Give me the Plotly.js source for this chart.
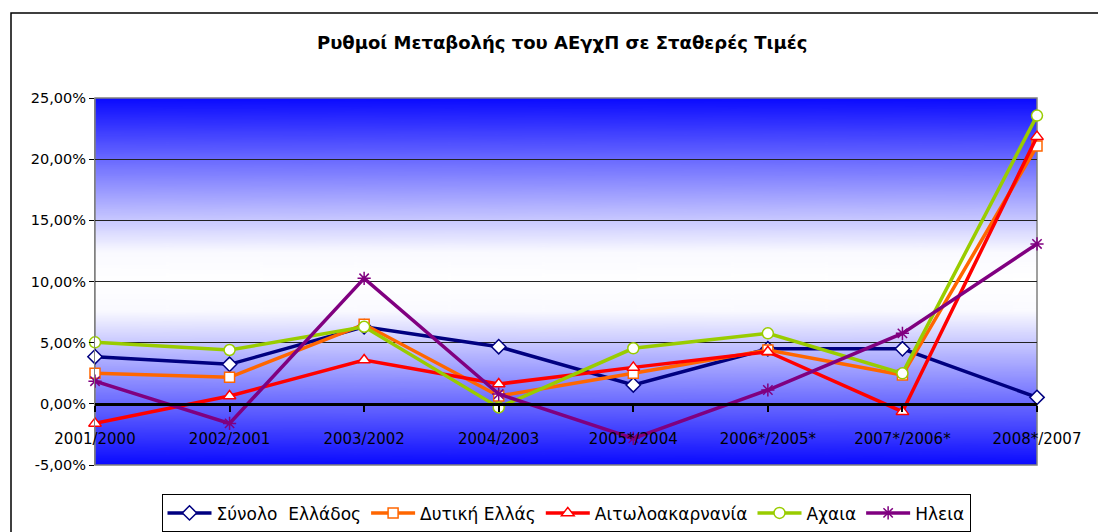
<!DOCTYPE html>
<html>
<head>
<meta charset="utf-8">
<script src="https://cdn.plot.ly/plotly-3.0.1.min.js"></script>
<style>html,body{margin:0;padding:0;background:#fff;}#chart{width:1098px;height:532px;}</style>
</head>
<body>
<div id="chart"></div>
<script>
const categories = ["2001/2000","2002/2001","2003/2002","2004/2003","2005*/2004","2006*/2005*","2007*/2006*","2008*/2007"];
const synoloEllados = [3.85, 3.23, 6.3, 4.67, 1.54, 4.5, 4.5, 0.53];
const dytikiEllas = [2.49, 2.17, 6.5, 0.64, 2.5, 4.4, 2.35, 21.08];
const aitoloakarnania = [-1.6, 0.64, 3.58, 1.62, 2.98, 4.26, -0.64, 21.84];
const achaia = [5.03, 4.4, 6.3, -0.29, 4.54, 5.76, 2.49, 23.56];
const ileia = [1.85, -1.6, 10.26, 0.8, -2.82, 1.13, 5.76, 13.07];
const seriesNames = ["Σύνολο  Ελλάδος","Δυτική Ελλάς","Αιτωλοακαρνανία","Αχαια","Ηλεια"];
const yTickVals = [-5, 0, 5, 10, 15, 20, 25];
const yTickText = ["-5,00%","0,00%","5,00%","10,00%","15,00%","20,00%","25,00%"];

// gradient background image
const cv = document.createElement('canvas');
cv.width = 20; cv.height = 400;
const ctx = cv.getContext('2d');
const g = ctx.createLinearGradient(0, 0, 0, 400);
g.addColorStop(0, '#0a0aff');
g.addColorStop(0.42, '#fafaff');
g.addColorStop(0.5, '#ffffff');
g.addColorStop(0.58, '#fafaff');
g.addColorStop(1, '#0a0aff');
ctx.fillStyle = g; ctx.fillRect(0, 0, 20, 400);
const bg = cv.toDataURL('image/png');

const styles = [
  {color:'#000080', symbol:'diamond', size:11},
  {color:'#FF6600', symbol:'square', size:10},
  {color:'#FF0000', symbol:'triangle-up', size:11},
  {color:'#99CC00', symbol:'circle', size:11},
  {color:'#800080', symbol:'asterisk-open', size:11}
];
const allSeries = [synoloEllados, dytikiEllas, aitoloakarnania, achaia, ileia];
const xIdx = categories.map((c,i)=>i);

const traces = allSeries.map((ys, k) => {
  const s = styles[k];
  const isAst = s.symbol === 'asterisk-open';
  return {
    type:'scatter', mode:'lines+markers', name: seriesNames[k],
    x: xIdx, y: ys,
    line:{color:s.color, width:3.5},
    marker:{symbol:s.symbol, size:s.size, color: isAst ? s.color : '#ffffff',
      line:{color:s.color, width:1.5}},
    cliponaxis:false
  };
});

const layout = {
  width:1098, height:532,
  margin:{l:95, r:61, t:98, b:67, autoexpand:false},
  paper_bgcolor:'#ffffff', plot_bgcolor:'rgba(0,0,0,0)',
  font:{family:'DejaVu Sans, sans-serif', size:14, color:'#000'},
  title:{text:'<b>Ρυθμοί Μεταβολής του ΑΕγχΠ σε Σταθερές Τιμές</b>', x:0.512, xanchor:'center', y:0.919, yanchor:'middle',
    font:{family:'DejaVu Sans, sans-serif', size:18, color:'#000'}},
  showlegend:true,
  legend:{orientation:'h', x:0.5, xanchor:'center', y:-0.08, yanchor:'top',
    bgcolor:'#ffffff', bordercolor:'#000', borderwidth:1,
    font:{family:'DejaVu Sans, sans-serif', size:17, color:'#000'}, itemwidth:44, tracegroupgap:0},
  xaxis:{range:[0,7], tickmode:'array', tickvals:xIdx, ticktext:categories,
    anchor:'free', position:1/6, showline:true, linecolor:'#000', linewidth:3,
    ticks:'outside', ticklen:6, tickwidth:2, tickcolor:'#000', showgrid:false, zeroline:false,
    ticklabelstandoff:14,
    tickfont:{family:'DejaVu Sans, sans-serif', size:15, color:'#000'}, fixedrange:true},
  yaxis:{range:[-5,25], tickmode:'array', tickvals:yTickVals, ticktext:yTickText,
    showline:true, linecolor:'#808080', linewidth:1, ticks:'outside', ticklen:5, tickcolor:'#000',
    showgrid:true, gridcolor:'#222', gridwidth:1, zeroline:false,
    tickfont:{family:'DejaVu Sans, sans-serif', size:14.5, color:'#000'}, fixedrange:true},
  images:[{source:bg, xref:'paper', yref:'paper', x:0, y:1, sizex:1, sizey:1,
    sizing:'stretch', xanchor:'left', yanchor:'top', layer:'below'}],
  shapes:[
    {type:'rect', xref:'paper', yref:'paper', x0:0, x1:1, y0:0, y1:1, line:{color:'#808080', width:1.5}, layer:'between'},
    {type:'rect', xref:'paper', yref:'paper', x0:(11-95)/942, x1:1.2, y0:-0.5, y1:(465-13)/367, line:{color:'#000', width:1.5}, fillcolor:'rgba(0,0,0,0)', layer:'below'}
  ]
};

Plotly.newPlot('chart', traces, layout, {displayModeBar:false, staticPlot:true});
</script>
</body>
</html>
